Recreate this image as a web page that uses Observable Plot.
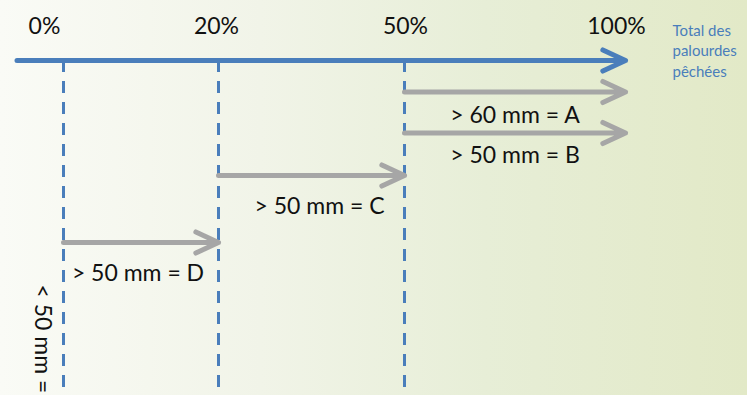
<!DOCTYPE html>
<html><head><meta charset="utf-8">
<script src="https://cdn.jsdelivr.net/npm/d3@7"></script>
<script src="https://cdn.jsdelivr.net/npm/@observablehq/plot@0.6"></script>
<style>
html,body{margin:0;padding:0;}
body{width:747px;height:395px;overflow:hidden;background:linear-gradient(to right,#fafbf6 0%,#f1f4e8 35%,#e7eed7 65%,#e2e9c7 100%);}
#chart svg{display:block;}
</style></head><body><div id="chart"></div>
<script>
// ---- data ----
const tickValues = [0, 20, 50, 100];
const tickLabels = ["0%", "20%", "50%", "100%"];
const dividers = [0, 20, 50];
const axisFrom = -6;
const axisTo = 100;
const axisTitle = "Total des\npalourdes\npêchées";
const arrowNames = ["A", "B", "C", "D"];
const arrowFrom = [50, 50, 20, 0];
const arrowTo = [100, 100, 50, 20];
const arrowRow = [1, 2, 3, 4];
const arrowLabels = ["> 60 mm = A", "> 50 mm = B", "> 50 mm = C", "> 50 mm = D"];
const sideLabel = "< 50 mm =";

// ---- tables built from arrays ----
const arrows = arrowNames.map((n, i) => ({name: n, from: arrowFrom[i], to: arrowTo[i], row: arrowRow[i], label: arrowLabels[i]}));
const ticks = tickValues.map((v, i) => ({value: v, label: tickLabels[i]}));

const font = "Lato, 'Open Sans', sans-serif";
const blue = "#4a7ebb";
const gray = "#a6a6a6";
const ink = "#111";

// layout nudges for text (pixels)
const tickNudge = {"0%": -19, "20%": -2, "50%": 1, "100%": -9};
const labelNudge = {A: [0, 31], B: [0, 30], C: [8, 38], D: [-3, 38]};

const marks = [
  Plot.ruleX(dividers, {x: d => d, stroke: blue, strokeWidth: 3, strokeDasharray: "12,9"}),
  Plot.arrow(arrows, {x1: "from", x2: "to", y1: "row", y2: "row", stroke: gray, strokeWidth: 5, headLength: 7.5, headAngle: 50, strokeLinecap: "round", strokeLinejoin: "round"}),
  Plot.arrow([{from: axisFrom, to: axisTo}], {x1: "from", x2: "to", y1: () => 0, y2: () => 0, stroke: blue, strokeWidth: 5, headLength: 7.5, headAngle: 50, strokeLinecap: "round", strokeLinejoin: "round"}),
  ...ticks.map(t => Plot.text([t], {x: "value", y: () => 0, text: "label", dx: tickNudge[t.label], dy: -27, lineAnchor: "bottom", textAnchor: "middle", fontSize: 23, fill: ink, fontFamily: font})),
  ...arrows.map(a => Plot.text([a], {x: d => (d.from + d.to) / 2, y: "row", text: "label", dx: labelNudge[a.name][0], dy: labelNudge[a.name][1], lineAnchor: "bottom", textAnchor: "middle", fontSize: 23, fill: ink, fontFamily: font})),
  Plot.text([axisTitle], {x: () => axisTo, y: () => 0, text: d => d, dx: 47, dy: 16, textAnchor: "start", lineAnchor: "bottom", lineHeight: 1.35, fontSize: 15, fill: blue, fontFamily: font}),
  Plot.text([sideLabel], {x: () => 0, y: () => 4, text: d => d, dx: -21, dy: 42, rotate: 90, textAnchor: "start", lineAnchor: "middle", fontSize: 23, fill: ink, fontFamily: font})
];

const chart = Plot.plot({
  width: 747,
  height: 395,
  marginTop: 60,
  marginBottom: 0,
  marginLeft: 0,
  marginRight: 0,
  style: {background: "transparent", overflow: "hidden"},
  x: {type: "linear", domain: [0, 20, 50, 100], range: [63, 218, 404, 625], axis: null},
  y: {type: "linear", domain: [0, 1, 2, 3, 4], range: [60, 91.5, 132.5, 175, 242], axis: null},
  marks
});
document.getElementById("chart").appendChild(chart);
</script>
</body></html>
